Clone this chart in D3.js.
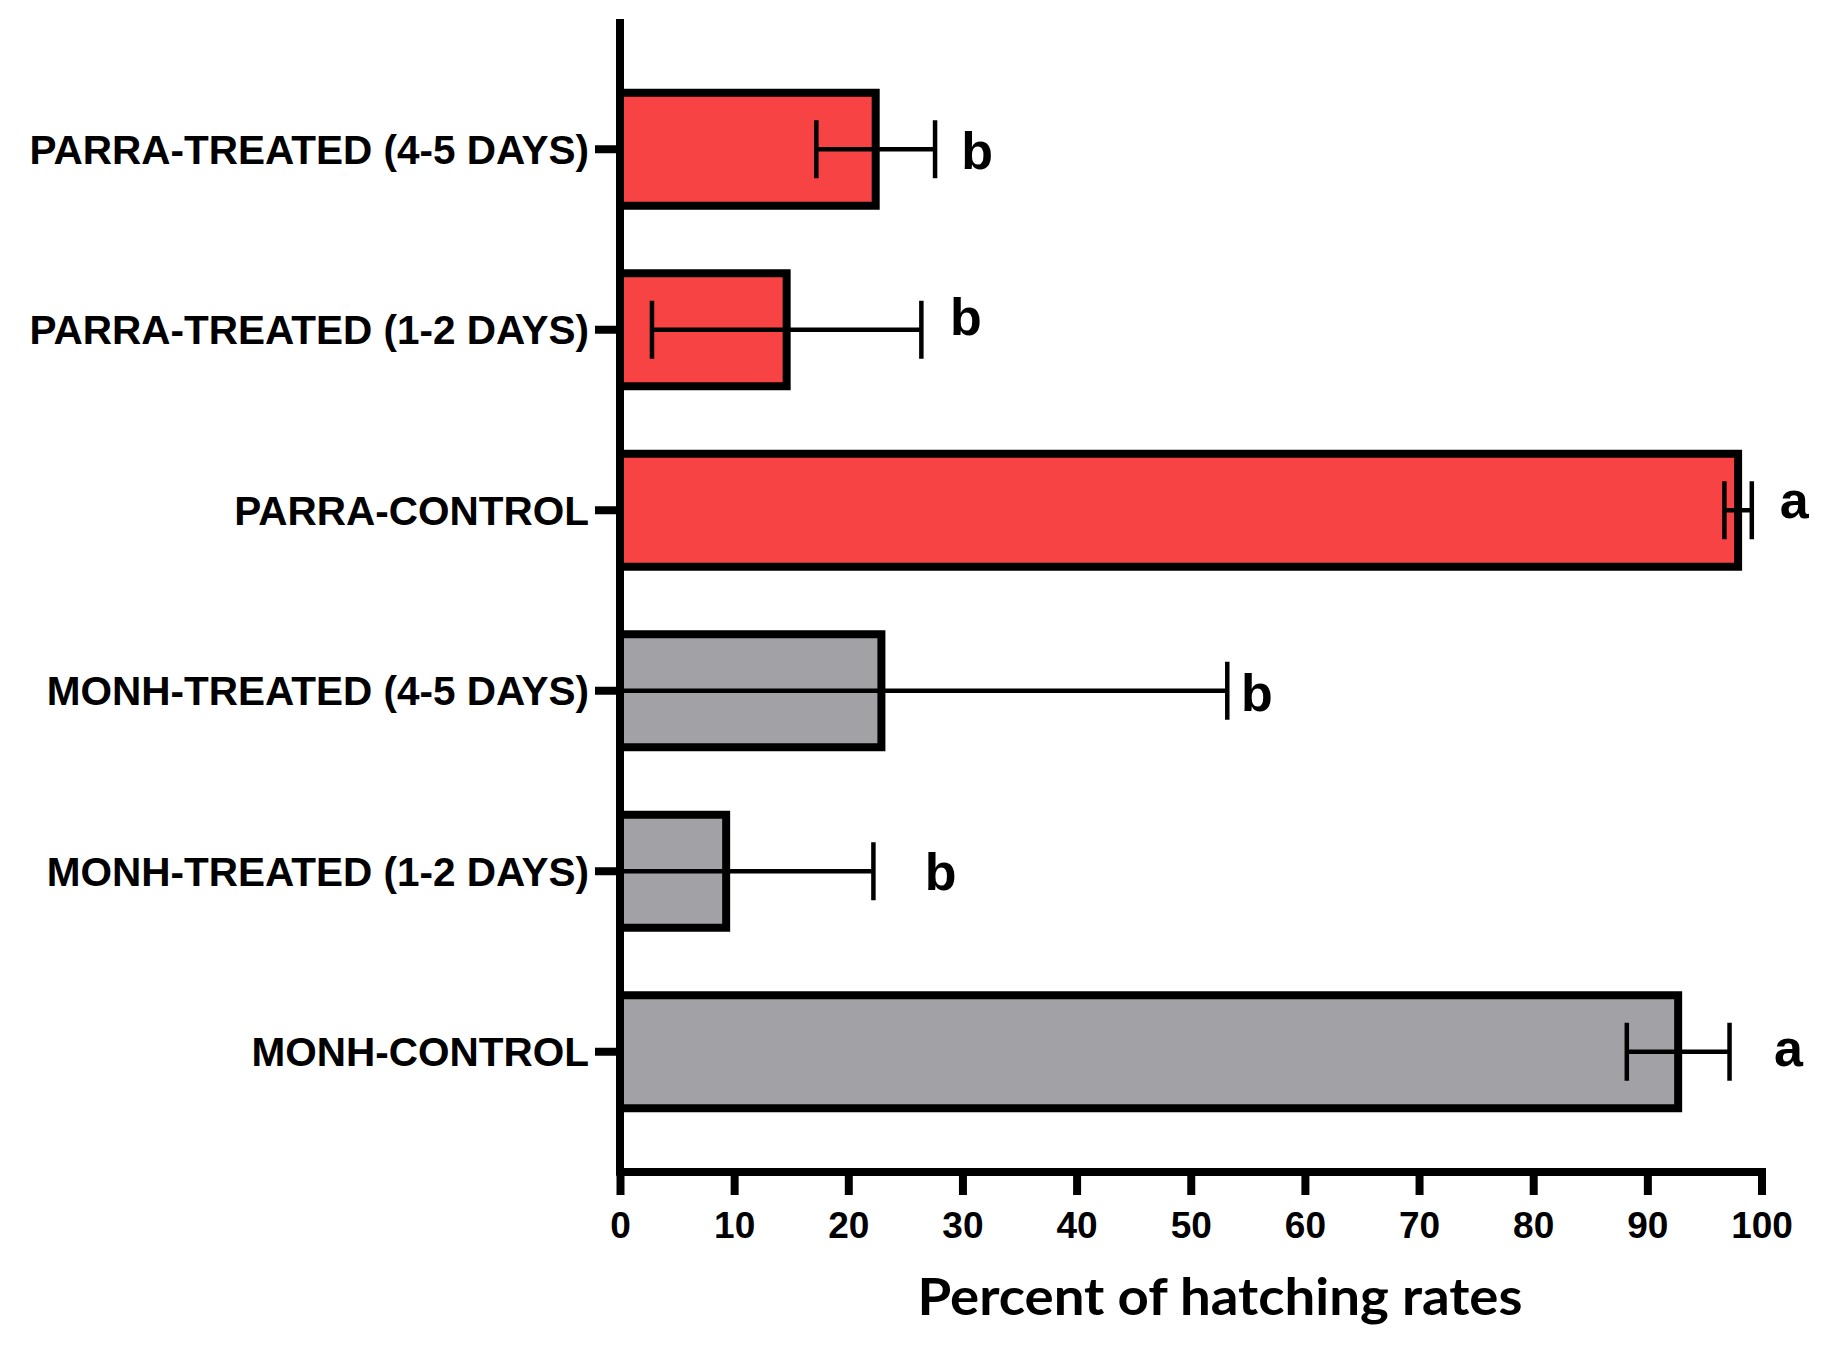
<!DOCTYPE html>
<html>
<head>
<meta charset="utf-8">
<script src="https://cdn.jsdelivr.net/npm/d3@7"></script>
<style>
  html, body { margin: 0; padding: 0; background: #ffffff; }
  svg { display: block; }
</style>
</head>
<body>
<svg id="chart" width="1831" height="1349"></svg>
<script>
// ---------------- DATA ----------------
const categories = [
  "PARRA-TREATED (4-5 DAYS)",
  "PARRA-TREATED (1-2 DAYS)",
  "PARRA-CONTROL",
  "MONH-TREATED (4-5 DAYS)",
  "MONH-TREATED (1-2 DAYS)",
  "MONH-CONTROL"
];
const groups = ["PARRA", "PARRA", "PARRA", "MONH", "MONH", "MONH"];
const means = [22.4, 14.6, 97.95, 22.9, 9.3, 92.7];
const errors = [5.2, 11.8, 1.2, 30.3, 12.9, 4.5];
const letters = ["b", "b", "a", "b", "b", "a"];
// horizontal position of each significance letter, in percent units
const letterX = [29.9, 28.9, 101.6, 54.4, 26.7, 101.1];
const xTicks = [0, 10, 20, 30, 40, 50, 60, 70, 80, 90, 100];
const xTitle = "Percent of hatching rates";

// ---------------- LAYOUT / STYLE ----------------
const colors = { PARRA: "#F74343", MONH: "#A2A1A6" };
const letterDy = [20, 5, 8, 20, 19, 14];   // vertical nudge of letters (px)
const svg = d3.select("#chart");

const x = d3.scaleLinear().domain([0, 100]).range([620, 1761.5]);
const y = d3.scaleBand().domain(categories).range([59, 1142])
  .paddingInner(0.374).paddingOuter(0.187);

const axisY0 = 23, axisY1 = 1171.5;

// bars
svg.append("g").selectAll("rect")
  .data(categories)
  .join("rect")
  .attr("x", x(0))
  .attr("y", d => y(d))
  .attr("width", (d, i) => x(means[i]) - x(0))
  .attr("height", y.bandwidth())
  .attr("fill", (d, i) => colors[groups[i]])
  .attr("stroke", "#000")
  .attr("stroke-width", 8);

// error bars
const capH = 58;
const eb = svg.append("g").attr("stroke", "#000").attr("stroke-width", 4.5).attr("fill", "none");
categories.forEach((c, i) => {
  const cy = y(c) + y.bandwidth() / 2;
  const lo = means[i] - errors[i];
  const hi = means[i] + errors[i];
  const loX = x(Math.max(0, lo));
  eb.append("line").attr("x1", loX).attr("x2", x(hi)).attr("y1", cy).attr("y2", cy);
  eb.append("line").attr("x1", x(hi)).attr("x2", x(hi)).attr("y1", cy - capH / 2).attr("y2", cy + capH / 2);
  if (lo >= 0) {
    eb.append("line").attr("x1", loX).attr("x2", loX).attr("y1", cy - capH / 2).attr("y2", cy + capH / 2);
  }
});

// significance letters
svg.append("g").selectAll("text")
  .data(categories)
  .join("text")
  .attr("x", (d, i) => x(letterX[i]))
  .attr("y", (d, i) => y(d) + y.bandwidth() / 2 + letterDy[i])
  .attr("font-family", "'Liberation Sans', Arial, sans-serif")
  .attr("font-weight", "bold")
  .attr("font-size", 52)
  .attr("fill", "#000")
  .text((d, i) => letters[i]);

// x axis
const gx = svg.append("g")
  .attr("transform", `translate(0,${axisY1})`)
  .call(d3.axisBottom(x).tickValues(xTicks).tickSize(23.5).tickSizeOuter(0).tickFormat(d3.format("d")));
gx.select(".domain").attr("stroke", "#000").attr("stroke-width", 8).attr("stroke-linecap", "square");
gx.selectAll(".tick line").attr("stroke", "#000").attr("stroke-width", 8);
gx.selectAll(".tick text")
  .attr("y", 66.5).attr("dy", 0)
  .attr("font-family", "'Liberation Sans', Arial, sans-serif")
  .attr("font-weight", "bold")
  .attr("font-size", 37)
  .attr("fill", "#000");

// y axis
const gy = svg.append("g")
  .attr("transform", `translate(${x(0)},0)`)
  .call(d3.axisLeft(y).tickSize(25).tickPadding(6).tickSizeOuter(0));
gy.select(".domain").remove();
gy.selectAll(".tick line").attr("stroke", "#000").attr("stroke-width", 8);
gy.selectAll(".tick text")
  .attr("dy", "0.36em")
  .attr("font-family", "'Liberation Sans', Arial, sans-serif")
  .attr("font-weight", "bold")
  .attr("font-size", 40.5)
  .attr("fill", "#000");
svg.append("line")
  .attr("x1", x(0)).attr("x2", x(0))
  .attr("y1", axisY0).attr("y2", axisY1)
  .attr("stroke", "#000").attr("stroke-width", 8).attr("stroke-linecap", "square");

// x axis title
svg.append("text")
  .attr("x", 1220)
  .attr("y", 1315)
  .attr("text-anchor", "middle")
  .attr("font-family", "Lato, 'Open Sans', sans-serif")
  .attr("font-weight", "bold")
  .attr("font-size", 52)
  .attr("textLength", 605)
  .attr("lengthAdjust", "spacingAndGlyphs")
  .attr("fill", "#000")
  .text(xTitle);
</script>
</body>
</html>
